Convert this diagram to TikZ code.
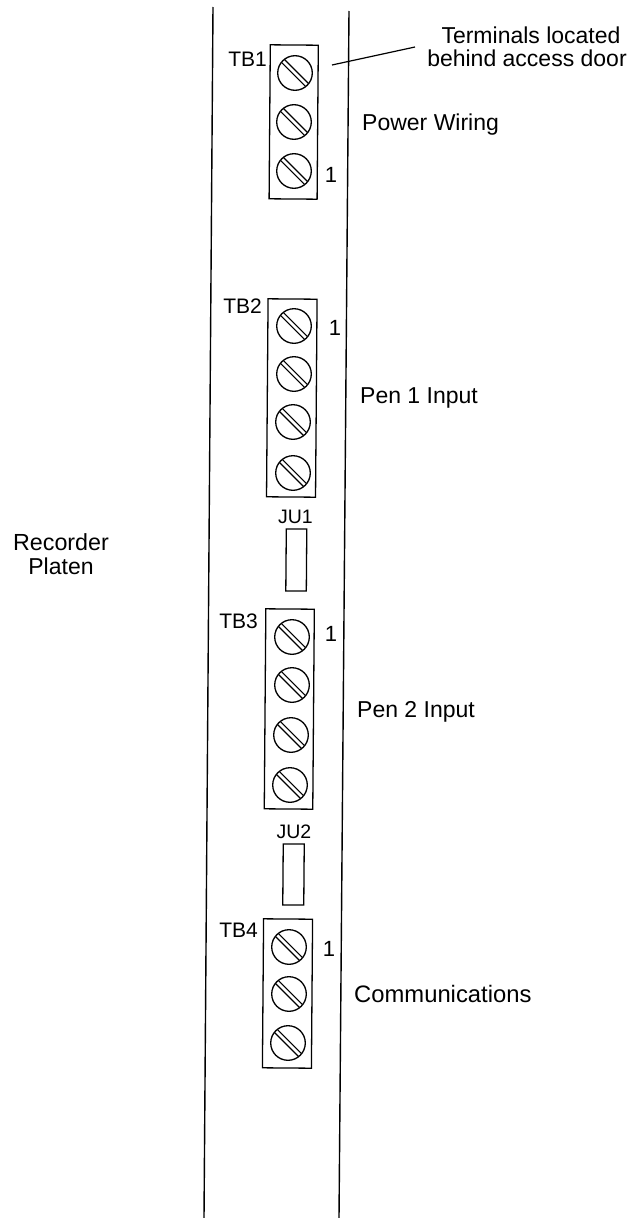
\documentclass[tikz,border=0pt]{standalone}
\usepackage{fontspec}
\setmainfont{Liberation Sans}
\tikzset{
  wall/.style={line width=1.4pt,black},
  blockbox/.style={draw,line width=1.3pt,rotate=-0.45,inner sep=0pt},
  lbl/.style={font=\fontsize{#1}{24}\selectfont,inner sep=0pt,black},
  lbl/.default=23,
  screwhead/.pic={
    \draw[line width=1.3pt] (0,0) circle (17.3);
    \draw[line width=1.2pt] (-10.7,-13.6) -- (13.6,10.7);
    \draw[line width=1.2pt] (-13.6,-10.7) -- (10.7,13.6);
  }
}
\begin{document}
\begin{tikzpicture}[x=1pt,y=-1pt]
\useasboundingbox (0,0) rectangle (634,1218);
\coordinate (ltop) at (213,7); \coordinate (lbot) at (204,1218);
\coordinate (rtop) at (349,11); \coordinate (rbot) at (339,1218);
\draw[wall] (ltop) -- (lbot);
\draw[wall] (rtop) -- (rbot);
% terminal blocks
\node[blockbox,minimum width=48pt,minimum height=154pt] (tb1) at (293.7,122) {};
\node[blockbox,minimum width=49pt,minimum height=198pt] (tb2) at (291.8,398) {};
\node[blockbox,minimum width=48.5pt,minimum height=200pt] (tb3) at (289.3,709) {};
\node[blockbox,minimum width=49pt,minimum height=149pt] (tb4) at (287.5,993.5) {};
\node[blockbox,minimum width=20.5pt,minimum height=62pt] (ju1) at (296.3,560) {};
\node[blockbox,minimum width=21pt,minimum height=61pt] (ju2) at (293.5,874.5) {};
% screws
\foreach \p in {(295,73),(294,122),(294,171),
                (294,326),(294,374),(293,422),(293,473),
                (292,637),(292,685),(291,735),(290,785),
                (289,947),(289,994),(288,1043)}
  \pic at \p {screwhead};
% labels
\node[lbl=21,anchor=base east] (ltb1) at (267,66) {TB1};
\node[lbl=21,anchor=base east] (ltb2) at (262,313) {TB2};
\node[lbl=21,anchor=base east] (ltb3) at (258,628) {TB3};
\node[lbl=21,anchor=base east] (ltb4) at (258,937) {TB4};
\node[lbl=22,anchor=base] (n1a) at (331,182) {1};
\node[lbl=22,anchor=base] (n1b) at (335,335) {1};
\node[lbl=22,anchor=base] (n1c) at (331,641) {1};
\node[lbl=22,anchor=base] (n1d) at (329,956) {1};
\node[lbl=19.5,anchor=base] (lju1) at (295.5,523) {JU1};
\node[lbl=19.5,anchor=base] (lju2) at (294,838) {JU2};
\node[lbl=23,anchor=base west] (pw) at (362,130) {Power Wiring};
\node[lbl=23,anchor=base west] (p1) at (360,403) {Pen 1 Input};
\node[lbl=23,anchor=base west] (p2) at (357,717) {Pen 2 Input};
\node[lbl=23.8,anchor=base west] (co) at (354,1002) {Communications};
\node[lbl=23.3,anchor=base] (rp1) at (61,550) {Recorder};
\node[lbl=23,anchor=base] (rp2) at (61,574) {Platen};
\node[lbl=23,anchor=base] (door1) at (531,43) {Terminals located};
\node[lbl=23,anchor=base] (door2) at (527,66) {behind access door};
\coordinate (lead) at (332,65);
\coordinate (leadend) at (415,47);
\draw[line width=1.2pt] (lead) -- (leadend);
\end{tikzpicture}
\end{document}
